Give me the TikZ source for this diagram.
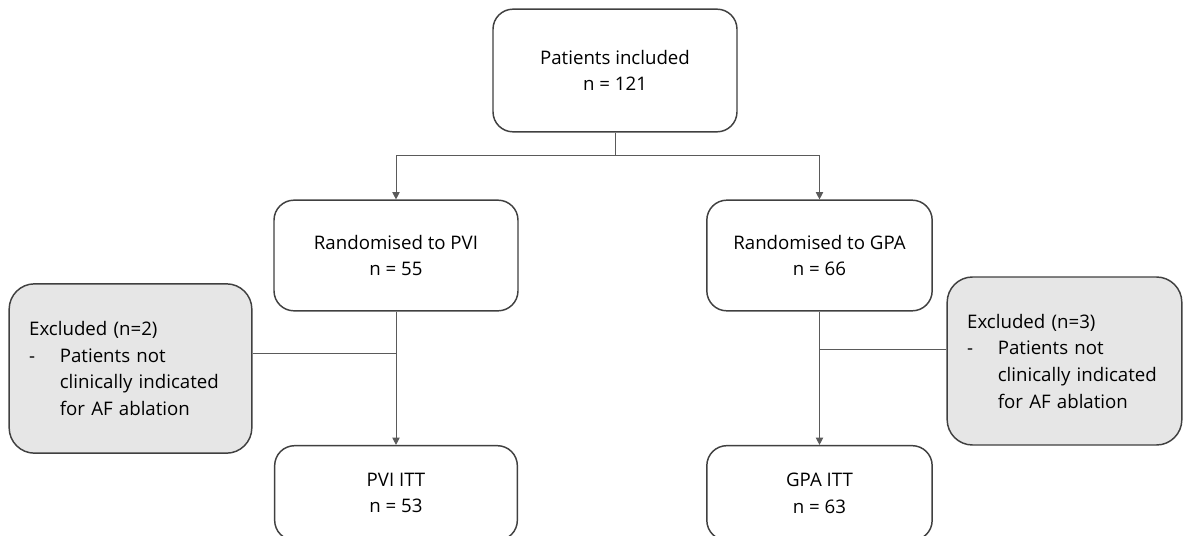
\documentclass[tikz,border=0pt]{standalone}
\usepackage{fontspec}
\setmainfont{Open Sans}
\usetikzlibrary{arrows.meta}
\definecolor{boxline}{HTML}{404040}
\definecolor{exfill}{HTML}{E6E6E6}
\definecolor{conn}{HTML}{5A5A5A}
\begin{document}
\begin{tikzpicture}[x=0.75pt,y=-0.75pt,
  font=\fontsize{14}{20}\selectfont,
  box/.style={draw=boxline,line width=1.1pt,rounded corners=15pt,fill=white,
    align=center,inner sep=0pt},
  exbox/.style={draw=boxline,line width=1.1pt,rounded corners=19pt,fill=exfill,
    align=left,inner xsep=15pt,inner ysep=0pt},
  link/.style={draw=conn,line width=0.7pt},
  arrow/.style={link,-{Triangle[width=5.5pt,length=5.5pt]}}]
\useasboundingbox (0,0) rectangle (1183,536);
% main boxes
\node[box,minimum width=183pt,minimum height=92pt] (top) at (615,70.5)
  {Patients included\\n = 121};
\node[box,minimum width=183pt,minimum height=83pt] (midL) at (396,255.5)
  {Randomised to PVI\\n = 55};
\node[box,minimum width=169pt,minimum height=83pt] (midR) at (819.5,255.5)
  {Randomised to GPA\\n = 66};
\node[box,minimum width=182pt,minimum height=71pt] (botL) at (396,493)
  {PVI ITT\\n = 53};
\node[box,minimum width=169pt,minimum height=71pt] (botR) at (819.5,493)
  {GPA ITT\\n = 63};
% exclusion boxes
\node[exbox,text width=152pt,minimum height=127pt] (exL) at (130.5,368.5)
  {Excluded (n=2)\\\makebox[23pt][l]{-}Patients not\\\hspace*{23pt}clinically indicated\\\hspace*{23pt}for AF ablation};
\node[exbox,text width=146pt,minimum height=126pt] (exR) at (1064.5,361)
  {Excluded (n=3)\\\makebox[23pt][l]{-}Patients not\\\hspace*{23pt}clinically indicated\\\hspace*{23pt}for AF ablation};
% split below the first box
\coordinate (split) at (615,155);
\draw[link] (top.south) -- (split);
\draw[arrow] (split) -| (midL.north);
\draw[arrow] (split) -| (midR.north);
% flows to the ITT groups with exclusion branches
\draw[arrow] (midL.south) -- (botL.north);
\draw[arrow] (midR.south) -- (botR.north);
\coordinate (jL) at (396,353);
\coordinate (jR) at (819.5,349);
\draw[link] (exL.east |- jL) -- (jL);
\draw[link] (exR.west |- jR) -- (jR);
\end{tikzpicture}
\end{document}
